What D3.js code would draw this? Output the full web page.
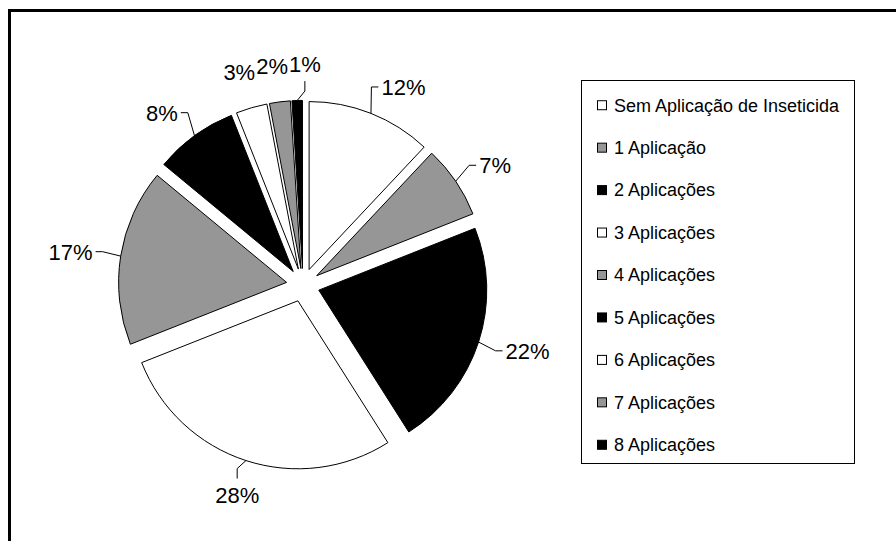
<!DOCTYPE html>
<html>
<head>
<meta charset="utf-8">
<script src="https://cdn.jsdelivr.net/npm/d3@7"></script>
<style>
  body { margin: 0; background: #fff; }
  text { font-family: "Liberation Sans", Arial, sans-serif; fill: #000; }
</style>
</head>
<body>
<div id="chart"></div>
<script>
const categories = ["Sem Aplicação de Inseticida", "1 Aplicação", "2 Aplicações", "3 Aplicações",
    "4 Aplicações", "5 Aplicações", "6 Aplicações", "7 Aplicações", "8 Aplicações"];
const values = [12, 7, 22, 28, 17, 8, 3, 2, 1];
const fills = ["#ffffff", "#969696", "#000000"];
// labels Excel placed right against the slice, without leader line
const noLeader = ["6 Aplicações", "7 Aplicações"];

const width = 896;
const height = 541;
const cx = 303, cy = 285;
const radius = 168;
const explode = 16.6;
const labelR = 213;

const svg = d3.select("#chart")
    .append("svg")
    .attr("width", width)
    .attr("height", height);

// chart area border (only top and left edges fall inside the picture)
svg.append("rect")
    .attr("x", 9.5)
    .attr("y", 10.5)
    .attr("width", width)
    .attr("height", height)
    .attr("fill", "none")
    .attr("stroke", "#000")
    .attr("stroke-width", 3);

const data = categories.map((c, i) => ({ category: c, value: values[i] }));
const color = d3.scaleOrdinal().domain(categories).range(fills);

const pie = d3.pie().sort(null).value(d => d.value);
const arcs = pie(data);
const arc = d3.arc().innerRadius(0).outerRadius(radius);

const mid = d => (d.startAngle + d.endAngle) / 2;
const dir = a => [Math.sin(a), -Math.cos(a)];

const g = svg.append("g").attr("transform", `translate(${cx},${cy})`);

g.selectAll("path.slice")
    .data(arcs)
    .enter()
    .append("path")
    .attr("class", "slice")
    .attr("transform", d => {
        const [dx, dy] = dir(mid(d));
        return `translate(${dx * explode},${dy * explode})`;
    })
    .attr("d", arc)
    .attr("fill", d => color(d.data.category))
    .attr("stroke", "#000")
    .attr("stroke-width", 1);

// data labels
const fontSize = 22;
const cap = fontSize * 0.716;
const labels = arcs.map(d => {
    const a = mid(d);
    const [dx, dy] = dir(a);
    return {
        d, dx, dy,
        side: Math.abs(dx) > 0.34,
        x: labelR * dx,
        y: labelR * dy,
        text: d.data.value + "%"
    };
});

const texts = g.selectAll("text.label")
    .data(labels)
    .enter()
    .append("text")
    .attr("class", "label")
    .style("font-size", fontSize + "px")
    .attr("text-anchor", l => l.side ? (l.dx > 0 ? "start" : "end") : "middle")
    .text(l => l.text);

texts.each(function (l) { l.w = this.getComputedTextLength(); });

// push apart the crowded labels on top of the pie
const topLabels = labels.filter(l => !l.side && l.dy < 0).sort((a, b) => a.x - b.x);
for (let k = 0; k < 20; k++) {
    for (let i = 0; i < topLabels.length - 1; i++) {
        const a = topLabels[i], b = topLabels[i + 1];
        const overlap = (a.x + a.w / 2 + 1) - (b.x - b.w / 2);
        if (overlap > 0) {
            a.x -= overlap / 2;
            b.x += overlap / 2;
        }
    }
}

texts
    .attr("x", l => l.x)
    .attr("y", l => l.side ? l.y + cap / 2 : (l.dy < 0 ? l.y : l.y + cap));

const leader = d3.line();
g.selectAll("path.leader")
    .data(labels.filter(l => !noLeader.includes(l.d.data.category)))
    .enter()
    .append("path")
    .attr("class", "leader")
    .attr("fill", "none")
    .attr("stroke", "#000")
    .attr("stroke-width", 1)
    .attr("d", l => {
        const s = [l.dx * (explode + radius), l.dy * (explode + radius)];
        let e, m;
        if (l.side) {
            const sg = l.dx > 0 ? 1 : -1;
            e = [l.x - sg * 3, l.y];
            m = [l.x - sg * 10, l.y];
        } else {
            const sg = l.dy < 0 ? -1 : 1;
            e = [l.x, l.y - sg * 9];
            m = [l.x, l.y - sg * 19];
        }
        return leader([s, m, e]);
    });

// legend
const legend = svg.append("g");
legend.append("rect")
    .attr("x", 581.5)
    .attr("y", 80.5)
    .attr("width", 273)
    .attr("height", 383)
    .attr("fill", "#fff")
    .attr("stroke", "#000")
    .attr("stroke-width", 1);

const rowY = d3.scaleBand().domain(categories).range([84, 466]);

const items = legend.selectAll("g.item")
    .data(categories)
    .enter()
    .append("g")
    .attr("class", "item")
    .attr("transform", c => `translate(0,${rowY(c) + rowY.bandwidth() / 2})`);

items.append("rect")
    .attr("x", 597.5)
    .attr("y", -4.5)
    .attr("width", 9)
    .attr("height", 9)
    .attr("fill", c => color(c))
    .attr("stroke", "#000")
    .attr("stroke-width", 1);

items.append("text")
    .attr("x", 614)
    .attr("dy", "0.35em")
    .style("font-size", "18px")
    .text(c => c);
</script>
</body>
</html>
